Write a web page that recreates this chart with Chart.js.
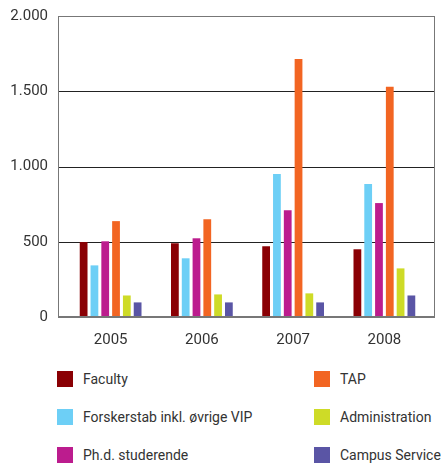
<!DOCTYPE html>
<html>
<head>
<meta charset="utf-8">
<script src="https://cdn.jsdelivr.net/npm/chart.js@4/dist/chart.umd.min.js"></script>
<style>
    html, body { margin: 0; padding: 0; background: #fff; }
    #wrap { position: relative; width: 441px; height: 463px; }
    #chart { position: absolute; left: 0; top: 0; }
    #legend {
        position: absolute; left: 57px; top: 371px; width: 384px;
        display: grid; grid-template-columns: 257px 127px; grid-auto-flow: column;
        grid-template-rows: 16px 16px 16px; row-gap: 22px;
        font-family: Roboto, sans-serif; font-size: 14px; color: #333;
    }
    .item { display: flex; align-items: center; white-space: nowrap; }
    .box { width: 16px; height: 16px; margin-right: 10px; flex: none; }
</style>
</head>
<body>
<div id="wrap">
    <canvas id="chart" width="441" height="355"></canvas>
    <div id="legend"></div>
</div>
<script>
const years = ['2005', '2006', '2007', '2008'];
const seriesNames = ['Faculty', 'Forskerstab inkl. øvrige VIP', 'Ph.d. studerende', 'TAP', 'Administration', 'Campus Service'];
const faculty = [498, 490, 470, 450];
const forskerstab = [343, 390, 950, 883];
const phd = [503, 523, 710, 757];
const tap = [637, 650, 1715, 1530];
const administration = [143, 150, 157, 323];
const campusService = [97, 97, 97, 143];
const yTicks = [0, 500, 1000, 1500, 2000];
const colors = ['#8a0004', '#6dcff6', '#bc1c8e', '#f26522', '#cedb27', '#5a55a5'];

const values = [faculty, forskerstab, phd, tap, administration, campusService];

// the frame is a bit wider than the category band
const padL = 7, padR = 5;

const frame = {
    id: 'frame',
    beforeDatasetsDraw(chart) {
        const a = chart.chartArea;
        const y = chart.scales.y;
        const ctx = chart.ctx;
        ctx.save();
        ctx.lineWidth = 1;
        yTicks.forEach(v => {
            const py = Math.round(y.getPixelForValue(v)) + 0.5;
            ctx.strokeStyle = (v === 0 || v === 2000) ? '#777' : '#222';
            ctx.beginPath();
            ctx.moveTo(a.left - padL, py);
            ctx.lineTo(a.right + padR, py);
            ctx.stroke();
        });
        ctx.restore();
    },
    afterDraw(chart) {
        const a = chart.chartArea;
        const ctx = chart.ctx;
        ctx.save();
        ctx.strokeStyle = '#777';
        ctx.lineWidth = 1;
        const top = Math.round(a.top) + 0.5;
        const bottom = Math.round(a.bottom);
        ctx.beginPath();
        ctx.moveTo(a.left - padL + 0.5, bottom);
        ctx.lineTo(a.left - padL + 0.5, top);
        ctx.lineTo(a.right + padR - 0.5, top);
        ctx.lineTo(a.right + padR - 0.5, bottom);
        ctx.stroke();
        ctx.lineWidth = 2;
        ctx.beginPath();
        ctx.moveTo(a.left - padL, bottom);
        ctx.lineTo(a.right + padR, bottom);
        ctx.stroke();
        ctx.restore();
    }
};

new Chart(document.getElementById('chart'), {
    type: 'bar',
    data: {
        labels: years,
        datasets: seriesNames.map((name, i) => ({
            label: name,
            data: values[i],
            backgroundColor: colors[i],
            borderWidth: 0,
            barPercentage: 0.72,
            categoryPercentage: 0.71
        }))
    },
    options: {
        responsive: false,
        animation: false,
        layout: { padding: { top: 0, right: 6 + padR, left: 0, bottom: 0 } },
        plugins: { legend: { display: false }, tooltip: { enabled: false } },
        scales: {
            x: {
                grid: { display: false },
                border: { display: false },
                ticks: { color: '#333', font: { family: 'Roboto', size: 15 }, padding: 6 }
            },
            y: {
                min: 0, max: 2000,
                afterBuildTicks: s => { s.ticks = yTicks.map(v => ({ value: v })); },
                afterFit: s => { s.width = 58 + padL; s.paddingTop = 16; },
                grid: { display: false },
                border: { display: false },
                ticks: {
                    color: '#333', font: { family: 'Roboto', size: 15 }, padding: 2 + padL,
                    callback: v => v.toLocaleString('da-DK')
                }
            }
        }
    },
    plugins: [frame]
});

const legend = document.getElementById('legend');
seriesNames.forEach((name, i) => {
    const item = document.createElement('div');
    item.className = 'item';
    item.innerHTML = `<span class="box" style="background:${colors[i]}"></span><span>${name}</span>`;
    legend.appendChild(item);
});
</script>
</body>
</html>
